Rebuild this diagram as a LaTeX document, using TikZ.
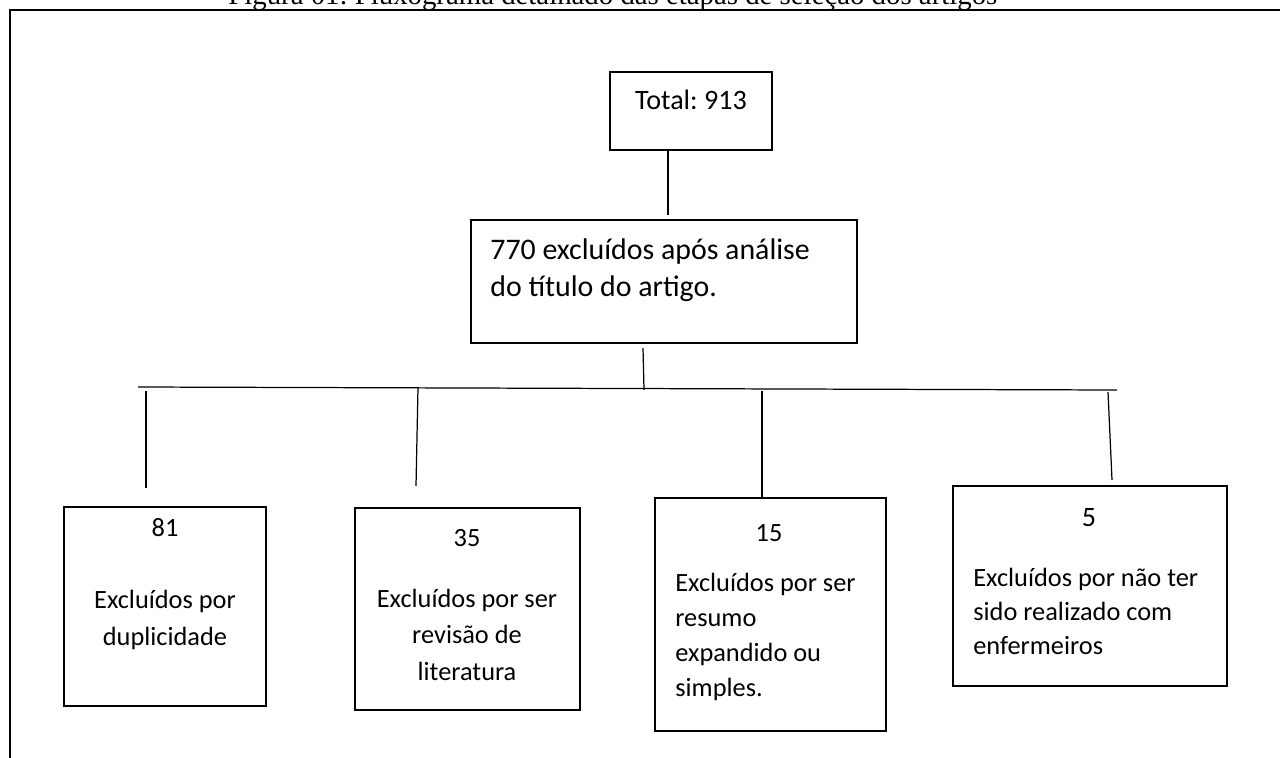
\documentclass[tikz,border=0pt]{standalone}
\usepackage{fontspec}
\setmainfont{Carlito}
\newfontfamily\titlefont{Liberation Serif}
\usetikzlibrary{positioning}
\frenchspacing

\tikzset{
  caixa/.style={draw, line width=0.8pt, inner sep=0pt},
  numero/.style={font=\fontsize{15}{20.5}\selectfont, inner sep=0pt, anchor=base},
  texto/.style={font=\fontsize{15}{20.5}\selectfont, inner sep=0pt, align=center, anchor=base},
  textoesq/.style={font=\fontsize{15}{19.2}\selectfont, inner sep=0pt, align=left, anchor=base west},
  ligacao/.style={line width=0.7pt},
}

\begin{document}
\begin{tikzpicture}[x=0.02cm, y=-0.02cm]

    \useasboundingbox (0,0) rectangle (1280,757);

    % Frame and (cut) caption
    \draw[line width=1.7pt] (10,770) -- (10,10) -- (1290,10);
    \node[anchor=base west, inner sep=0pt, font=\titlefont\fontsize{16.4}{19}\selectfont] (titulo) at (228,5)
        {Figura 01: Fluxograma detalhado das etapas de seleção dos artigos};

    % Top boxes
    \node[caixa, line width=1.1pt, minimum width=3.24cm, minimum height=1.56cm] (total) at (691,111) {};
    \node[numero, font=\fontsize{16}{20}\selectfont] (totaltxt) at (691,110) {Total: 913};

    \node[caixa, minimum width=7.72cm, minimum height=2.46cm] (n770) at (664,281.5) {};
    % base of a multi-line node = baseline of its last line
    \node[textoesq, font=\fontsize{17}{21}\selectfont] (n770txt) at (490,296)
        {770 excluídos após análise\\do título do artigo.};

    % Bottom boxes
    \node[caixa, minimum width=4.04cm, minimum height=3.98cm] (n81) at (165,606.5) {};
    \node[numero] (n81num) at (165,536) {81};
    \node[texto] (n81txt) at (165,645) {Excluídos por\\duplicidade};

    \node[caixa, minimum width=4.5cm, minimum height=4.04cm] (n35) at (467.5,609) {};
    \node[numero] (n35num) at (467,546) {35};
    \node[texto] (n35txt) at (467,680) {Excluídos por ser\\revisão de\\literatura};

    \node[caixa, minimum width=4.62cm, minimum height=4.66cm] (n15) at (770.5,614.5) {};
    \node[numero] (n15num) at (769,541) {15};
    \node[textoesq, font=\fontsize{15}{19.8}\selectfont] (n15txt) at (675,696) {Excluídos por ser\\resumo\\expandido ou\\simples.};

    \node[caixa, line width=1.6pt, minimum width=5.48cm, minimum height=4cm] (n5) at (1090,586) {};
    \node[numero, font=\fontsize{16}{20}\selectfont] (n5num) at (1089,526) {5};
    \node[textoesq, font=\fontsize{15}{19.2}\selectfont] (n5txt) at (973,654)
        {Excluídos por não ter\\sido realizado com\\enfermeiros};

    % Connector coordinates
    \coordinate (c770) at (668,215); % above 770 box
    \coordinate (c770b) at (643,348); % below 770 box
    \coordinate (busM) at (644,390);
    \coordinate (busL) at (138,387);
    \coordinate (busR) at (1117,390);
    \coordinate (e81) at (146,488);
    \coordinate (e35) at (416,486);
    \coordinate (e15) at (762,498);
    \coordinate (e5) at (1112,480);

    % Connectors
    \draw[ligacao] (total.south -| c770) -- (c770);
    \draw[ligacao] (c770b) -- (busM);
    \draw[ligacao] (busL) -- (busR);
    \draw[ligacao] (146,391) -- (e81);
    \draw[ligacao] (418,387) -- (e35);
    \draw[ligacao] (762,391) -- (e15);
    \draw[ligacao] (1108,392) -- (e5);

\end{tikzpicture}
\end{document}
